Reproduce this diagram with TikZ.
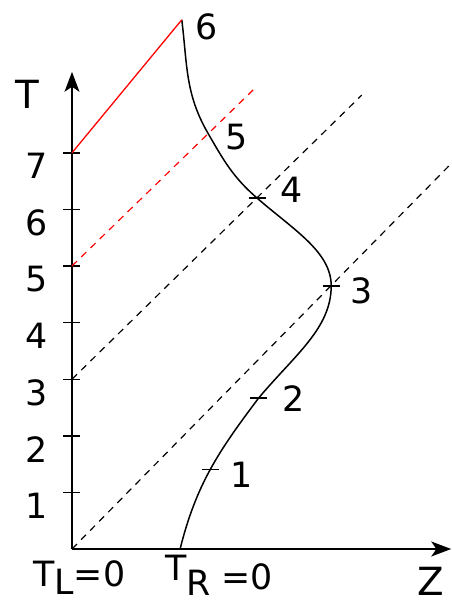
\documentclass[tikz,border=0pt]{standalone}
\usepackage{fontspec}
\setmainfont{DejaVu Sans}
\usetikzlibrary{positioning,arrows.meta}

\begin{document}
\begin{tikzpicture}[x=1cm, y=1cm, node distance=0.4cm]
        \tikzstyle{axis}=[line width=0.75pt, -{Stealth[length=10pt, width=7.5pt, inset=2.5pt]}];
        \tikzstyle{tickmark}=[line width=0.7pt];
        \tikzstyle{num}=[inner sep=0pt, font=\fontsize{17.5}{19}\selectfont];
        \tikzstyle{big}=[inner sep=0pt, font=\fontsize{19.5}{21}\selectfont];
        \tikzstyle{charline}=[line width=0.6pt, dash pattern=on 3.5pt off 3pt];

        \useasboundingbox (-1.272,-0.954) rectangle (6.714,9.70);

        % axes
        \coordinate (o) at (0,0);
        \coordinate (tend) at (0,8.43);
        \coordinate (zend) at (6.70,0);
        \draw[axis] (o) -- (tend);
        \draw[axis] (o) -- (zend);
        \foreach \k in {1,...,7} {
            \draw[tickmark] (-0.16,\k) -- (0.15,\k);
            \node[num, anchor=north] (t\k) at (-0.62,\k) {\k};
        }
        \node[big, anchor=base west] (tlabel) at (-1.01,7.79) {T};
        \node[big, anchor=base west] (zlabel) at (6.10,-0.83) {Z};
        \node[num, anchor=base west] (tl) at (-0.69,-0.67) {T\raisebox{-4pt}{L}=0};
        \node[num, anchor=base west] (tr) at (1.64,-0.72) {\raisebox{4.5pt}{T}\raisebox{-3pt}{R} =0};

        % trajectory
        \coordinate (p0) at (1.91,0);
        \coordinate (p1) at (2.44,1.40);
        \coordinate (p2) at (3.30,2.67);
        \coordinate (p3) at (4.58,4.65);
        \coordinate (p4) at (3.27,6.20);
        \coordinate (p5) at (2.40,7.35);
        \coordinate (p6) at (1.94,9.35);
        \draw[line width=0.75pt] (p0) to[out=76,in=233] (p2)
            to[out=50,in=270,out distance=1.0cm,in distance=0.75cm] (p3)
            to[out=90,in=-41,out distance=0.6cm,in distance=0.85cm] (p4)
            to[out=139,in=-60] (p5)
            to[out=120,in=-83] (p6);
        \foreach \p in {p1,p2,p3,p4}
            \draw[tickmark] ([xshift=-0.15cm]\p) -- ([xshift=0.15cm]\p);

        \node[num, right=0.36 of p1, yshift=-0.09cm] (l1) {1};
        \node[num, right=0.42 of p2, yshift=-0.02cm] (l2) {2};
        \node[num, right=0.33 of p3, yshift=-0.09cm] (l3) {3};
        \node[num, right=0.40 of p4, yshift=0.14cm] (l4) {4};
        \node[num, right=0.30 of p5, yshift=-0.07cm] (l5) {5};
        \node[num, right=0.24 of p6, yshift=-0.12cm] (l6) {6};

        % characteristics
        \coordinate (a3) at (0,3);
        \coordinate (a5) at (0,5);
        \coordinate (a7) at (0,7);
        \coordinate (d1) at (6.71,6.82);
        \coordinate (d2) at (5.12,8.02);
        \coordinate (d3) at (3.23,8.14);
        \draw[charline] (o) -- (d1);
        \draw[charline] (a3) -- (d2);
        \draw[charline, red] (a5) -- (d3);
        \draw[line width=0.65pt, red] (a7) -- (p6);
    \end{tikzpicture}
\end{document}
